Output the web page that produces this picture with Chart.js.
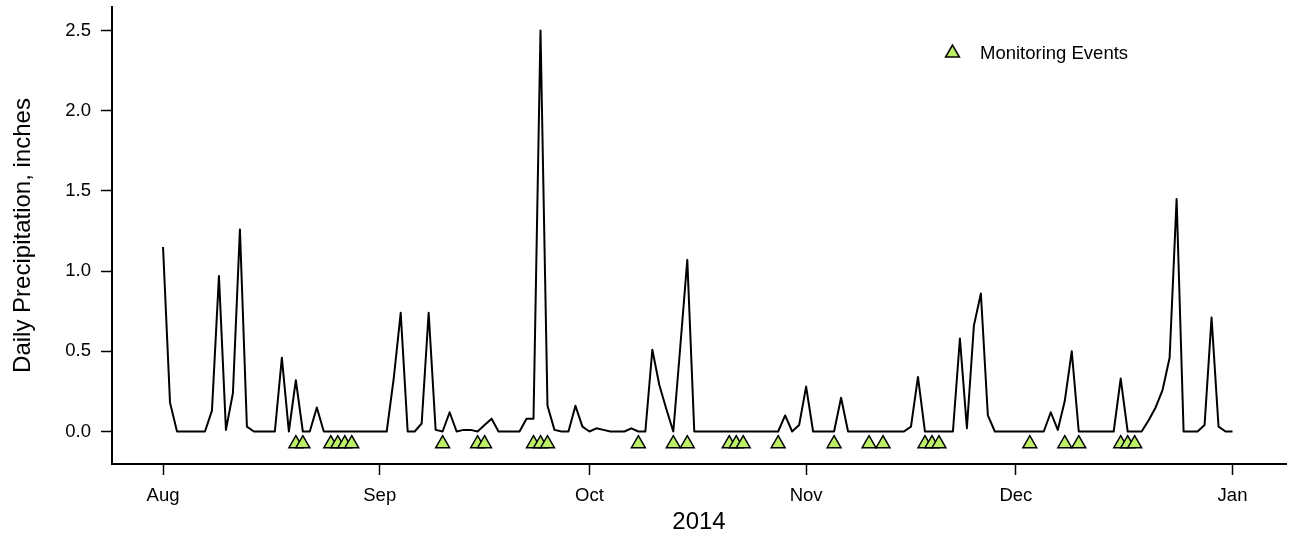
<!DOCTYPE html>
<html>
<head>
<meta charset="utf-8">
<title>Daily Precipitation 2014</title>
<script src="https://cdn.jsdelivr.net/npm/chart.js@4.4.1/dist/chart.umd.min.js"></script>
<style>
  html, body { margin: 0; padding: 0; background: #ffffff; }
  canvas { display: block; }
</style>
</head>
<body>
<canvas id="precipChart" width="1292" height="537"></canvas>
<script>
// Daily precipitation (inches), one value per day starting 2014-08-01
const seriesStart = '2014-08-01';
const dailyPrecip = [
  // Aug
  1.15, 0.18, 0, 0, 0, 0, 0, 0.13, 0.97, 0.01, 0.24, 1.26, 0.03, 0, 0, 0,
  0, 0.46, 0, 0.32, 0, 0, 0.15, 0, 0, 0, 0, 0, 0, 0, 0,
  // Sep
  0, 0, 0.33, 0.74, 0, 0, 0.05, 0.74, 0.01, 0, 0.12, 0, 0.01, 0.01, 0,
  0.04, 0.08, 0, 0, 0, 0, 0.08, 0.08, 2.5, 0.16, 0.01, 0, 0, 0.16, 0.03,
  // Oct
  0, 0.02, 0.01, 0, 0, 0, 0.02, 0, 0, 0.51, 0.29, 0.14, 0, 0.53, 1.07,
  0, 0, 0, 0, 0, 0, 0, 0, 0, 0, 0, 0, 0, 0.1, 0, 0.04,
  // Nov
  0.28, 0, 0, 0, 0, 0.21, 0, 0, 0, 0, 0, 0, 0, 0, 0, 0.03, 0.34,
  0, 0, 0, 0, 0, 0.58, 0.02, 0.66, 0.86, 0.1, 0, 0, 0,
  // Dec
  0, 0, 0, 0, 0, 0.12, 0.01, 0.19, 0.5, 0, 0, 0, 0, 0, 0, 0.33,
  0, 0, 0, 0.07, 0.15, 0.26, 0.46, 1.45, 0, 0, 0, 0.04, 0.71, 0.03, 0,
  // Jan 1
  0
];

// Sampling dates
const monitoringDates = [
  '2014-08-20', '2014-08-21', '2014-08-25', '2014-08-26', '2014-08-27', '2014-08-28',
  '2014-09-10', '2014-09-15', '2014-09-16', '2014-09-23', '2014-09-24', '2014-09-25',
  '2014-10-08', '2014-10-13', '2014-10-15', '2014-10-21', '2014-10-22', '2014-10-23',
  '2014-10-28', '2014-11-05', '2014-11-10', '2014-11-12', '2014-11-18', '2014-11-19',
  '2014-11-20', '2014-12-03', '2014-12-08', '2014-12-10', '2014-12-16', '2014-12-17',
  '2014-12-18'
];

const monthLabels = ['Aug', 'Sep', 'Oct', 'Nov', 'Dec', 'Jan'];
const monthStarts = ['2014-08-01', '2014-09-01', '2014-10-01', '2014-11-01', '2014-12-01', '2015-01-01'];
const yTickValues = [0, 0.5, 1.0, 1.5, 2.0, 2.5];

const xTitle = '2014';
const yTitle = 'Daily Precipitation, inches';
const eventsLabel = 'Monitoring Events';

// Event markers sit just below the zero line
const EVENT_LEVEL = -0.076;

const FONT = "'Liberation Sans', Arial, Helvetica, sans-serif";
const DAY_MS = 86400000;

function toUTC(s) {
  const [y, m, d] = s.split('-').map(Number);
  return Date.UTC(y, m - 1, d);
}
const t0 = toUTC(seriesStart);
function dayIndex(s) {
  return Math.round((toUTC(s) - t0) / DAY_MS);
}

function trianglePath(ctx, cx, cy, r) {
  const s = Math.sin(2 * Math.PI / 3) * r;
  ctx.beginPath();
  ctx.moveTo(cx, cy - r);
  ctx.lineTo(cx + s, cy + r / 2);
  ctx.lineTo(cx - s, cy + r / 2);
  ctx.closePath();
}

// Legend entry drawn inside the plot area, upper right
const eventsLegend = {
  id: 'eventsLegend',
  afterDatasetsDraw(chart) {
    const ds = chart.data.datasets[1];
    const ctx = chart.ctx;
    ctx.save();
    trianglePath(ctx, 952.5, 53, 8);
    ctx.fillStyle = ds.backgroundColor;
    ctx.fill();
    ctx.lineWidth = ds.borderWidth;
    ctx.strokeStyle = ds.borderColor;
    ctx.stroke();
    ctx.fillStyle = '#000';
    ctx.font = '18.5px ' + FONT;
    ctx.textAlign = 'left';
    ctx.textBaseline = 'middle';
    ctx.fillText(ds.label, 980, 54);
    ctx.restore();
  }
};

const axisGrid = {
  display: true,
  drawOnChartArea: false,
  drawTicks: true,
  tickLength: 11,
  tickColor: '#000',
  tickWidth: 1.5
};
const axisBorder = { display: true, color: '#000', width: 2 };

new Chart(document.getElementById('precipChart'), {
  type: 'line',
  data: {
    datasets: [
      {
        type: 'line',
        label: 'Daily precipitation',
        data: dailyPrecip.map((v, i) => ({ x: i, y: v })),
        borderColor: '#000000',
        borderWidth: 2,
        pointRadius: 0,
        tension: 0,
        fill: false,
        borderJoinStyle: 'round',
        order: 2
      },
      {
        type: 'scatter',
        label: eventsLabel,
        data: monitoringDates.map(d => ({ x: dayIndex(d), y: EVENT_LEVEL })),
        pointStyle: 'triangle',
        pointRadius: 8,
        backgroundColor: '#BCEE68',
        borderColor: '#000000',
        borderWidth: 1.5,
        showLine: false,
        order: 1
      }
    ]
  },
  options: {
    responsive: false,
    animation: false,
    devicePixelRatio: 1,
    layout: { autoPadding: false, padding: { top: 7, right: 6, left: 0, bottom: 0 } },
    plugins: {
      legend: { display: false },
      tooltip: { enabled: false }
    },
    scales: {
      x: {
        type: 'linear',
        position: 'bottom',
        min: -7.3,
        max: 160.65,
        afterBuildTicks: s => { s.ticks = monthStarts.map(d => ({ value: dayIndex(d) })); },
        afterFit: s => { s.height = 73; s.paddingLeft = 0; s.paddingRight = 0; },
        ticks: {
          callback: (v, i) => monthLabels[i],
          color: '#000',
          font: { family: FONT, size: 18.5 },
          padding: 10,
          maxRotation: 0,
          autoSkip: false
        },
        grid: axisGrid,
        border: axisBorder,
        title: {
          display: true,
          text: xTitle,
          color: '#000',
          font: { family: FONT, size: 24 },
          padding: { top: 0, bottom: 0 }
        }
      },
      y: {
        type: 'linear',
        min: -0.2026,
        max: 2.6465,
        afterBuildTicks: s => { s.ticks = yTickValues.map(v => ({ value: v })); },
        afterFit: s => { s.width = 112; s.paddingTop = 0; s.paddingBottom = 0; },
        ticks: {
          callback: v => Number(v).toFixed(1),
          color: '#000',
          font: { family: FONT, size: 18.5 },
          padding: 10
        },
        grid: axisGrid,
        border: axisBorder,
        title: {
          display: true,
          text: yTitle,
          color: '#000',
          font: { family: FONT, size: 24 },
          padding: { top: 9, bottom: 0 }
        }
      }
    }
  },
  plugins: [eventsLegend]
});
</script>
</body>
</html>
